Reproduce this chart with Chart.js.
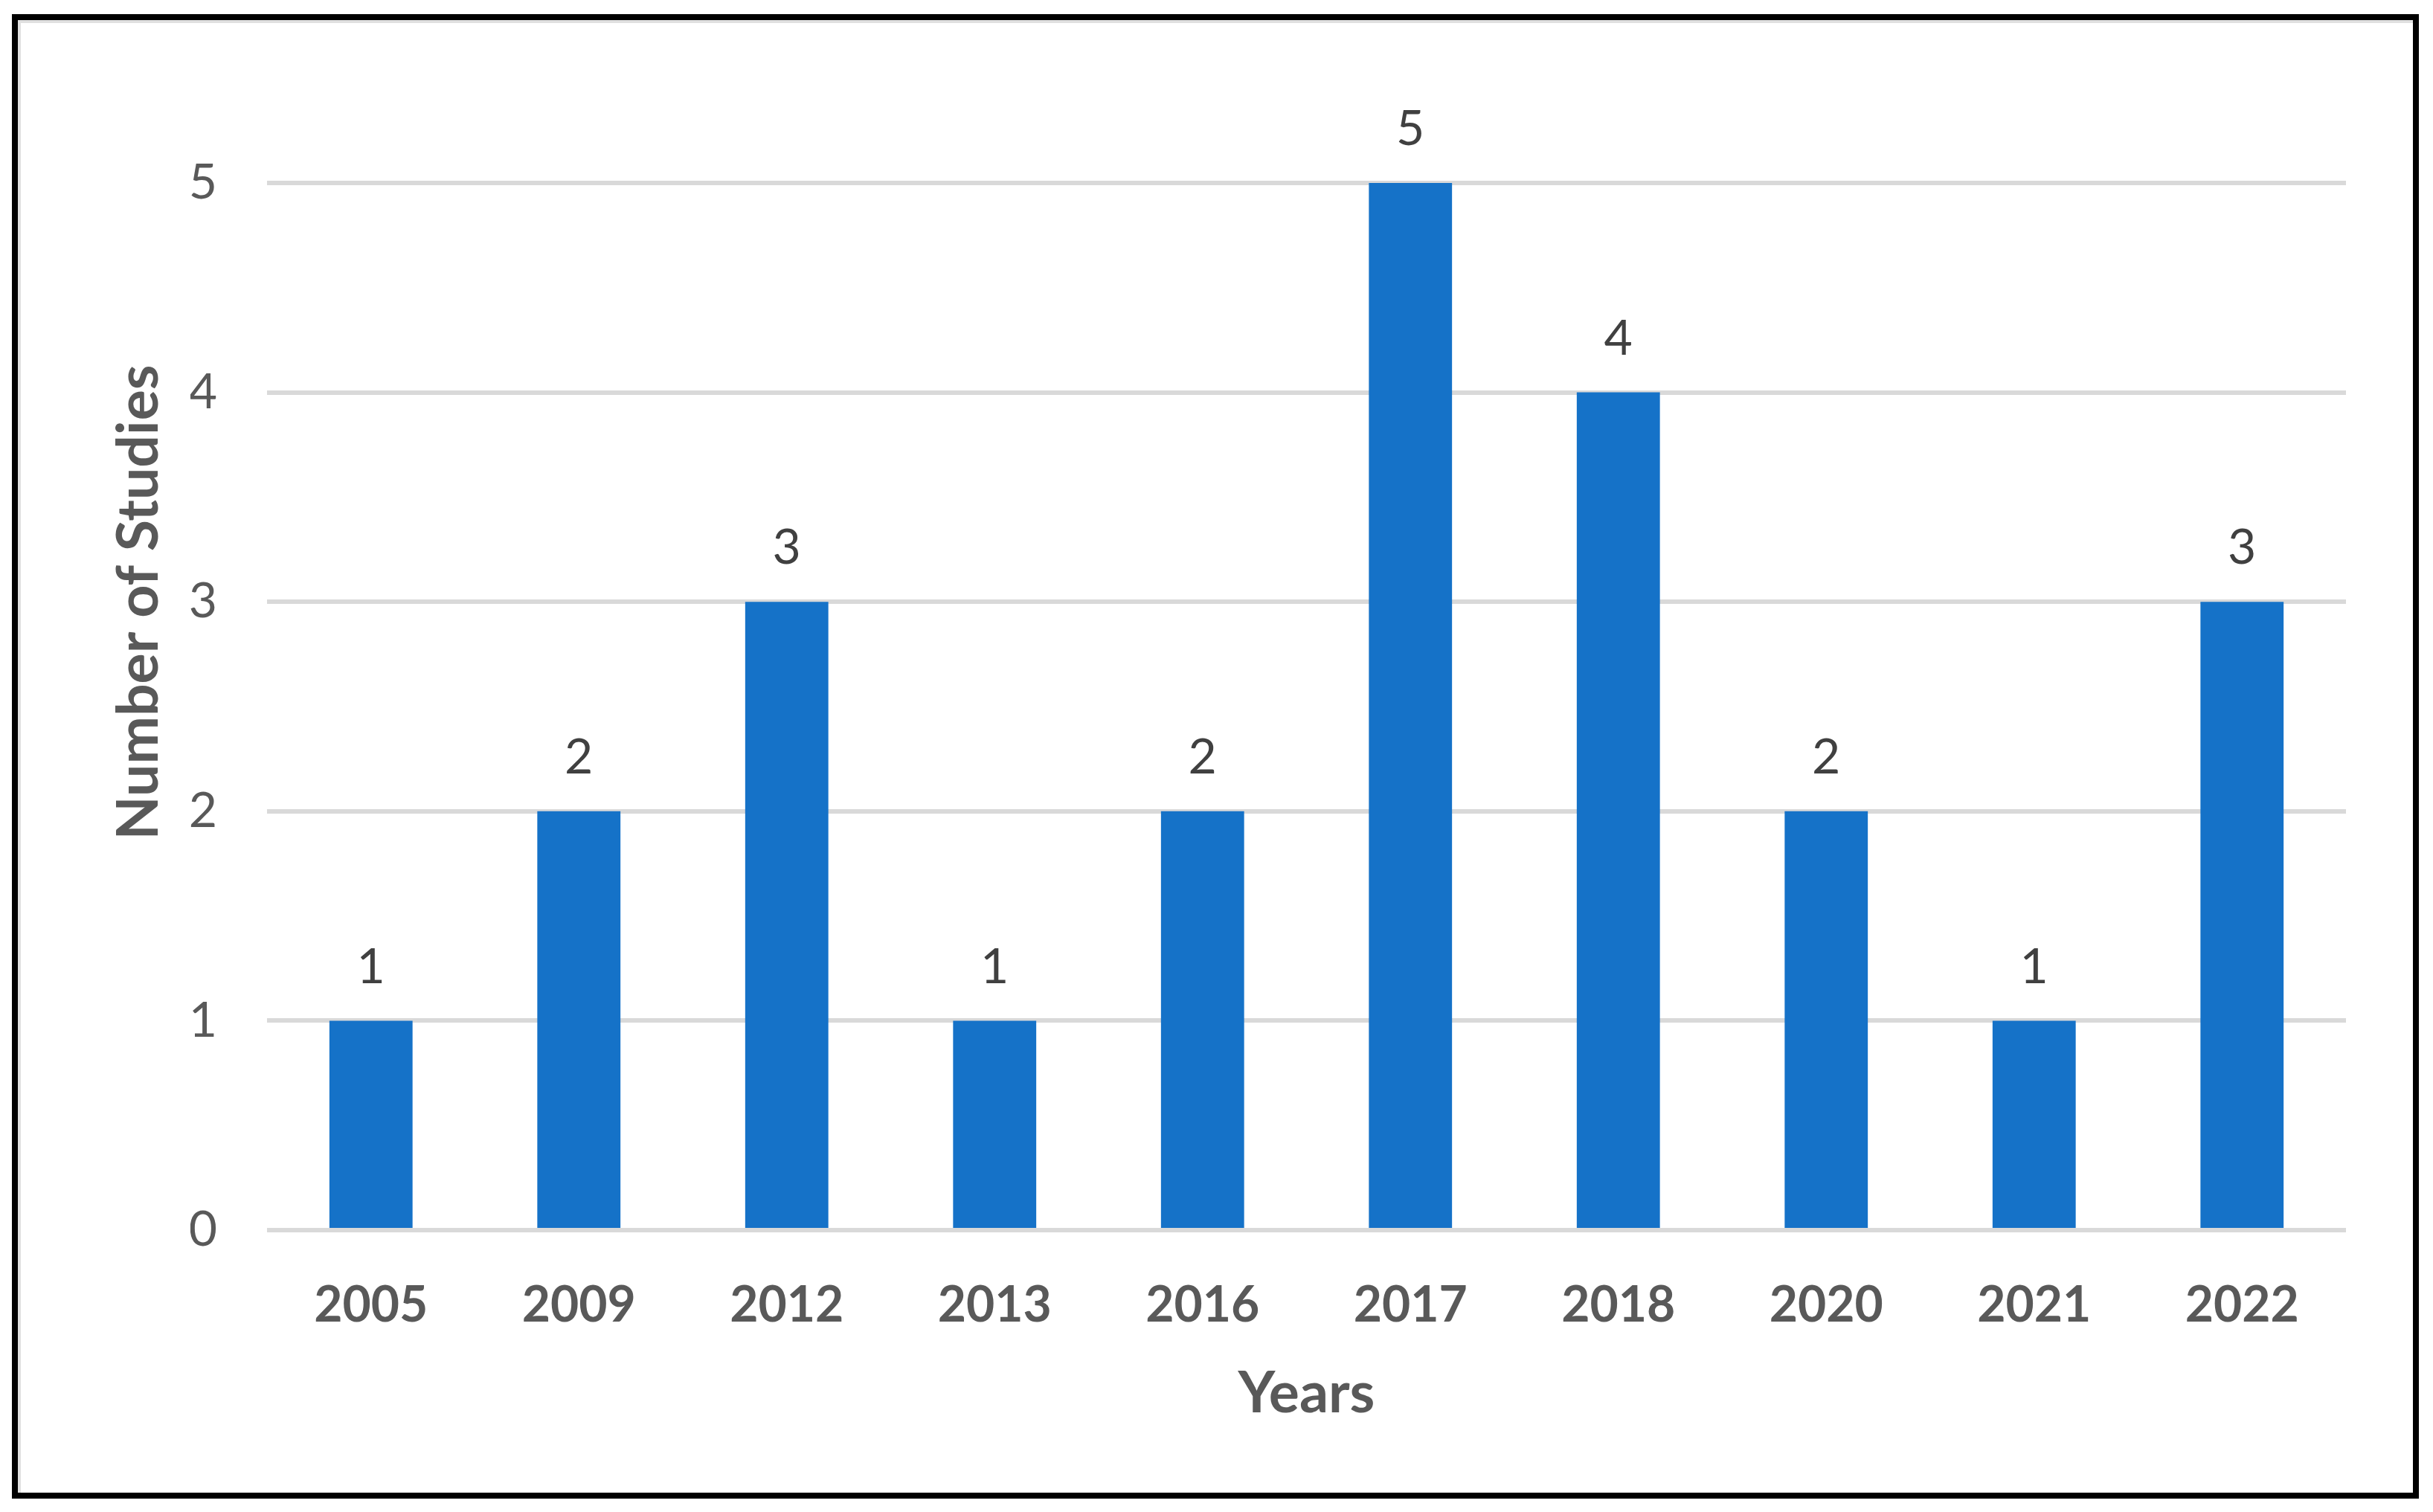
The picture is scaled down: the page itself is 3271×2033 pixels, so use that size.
<!DOCTYPE html>
<html>
<head>
<meta charset="utf-8">
<script src="https://cdn.jsdelivr.net/npm/chart.js@4.4.0/dist/chart.umd.min.js"></script>
<style>
  html, body { margin: 0; padding: 0; background: #fff; }
  #frame {
    position: absolute; left: 16px; top: 19px;
    width: 3220px; height: 1980px;
    border: 8px solid #000;
    box-shadow: inset 4px 4px 0 #e0e0e0;
  }
  #wrap { position: absolute; left: 0; top: 0; width: 3271px; height: 2033px; }
</style>
</head>
<body>
<div id="frame"></div>
<div id="wrap"><canvas id="barChart"></canvas></div>
<script>
const years = ['2005', '2009', '2012', '2013', '2016', '2017', '2018', '2020', '2021', '2022']
const studies = [1, 2, 3, 1, 2, 5, 4, 2, 1, 3]
const yTicks = [0, 1, 2, 3, 4, 5]

const FONT = 'Lato, "Open Sans", sans-serif'

// value labels above each bar
const barLabels = {
  id: 'barLabels',
  afterDatasetsDraw: (chart) => {
    const ctx = chart.ctx
    const meta = chart.getDatasetMeta(0)
    ctx.save()
    ctx.font = `66px ${FONT}`
    ctx.fillStyle = '#404040'
    ctx.textAlign = 'center'
    ctx.textBaseline = 'middle'
    meta.data.forEach((bar, i) => {
      ctx.fillText(String(studies[i]), bar.x, bar.y - 72)
    })
    ctx.restore()
  }
}

// y title, placed a bit above the plot middle like the original
const yTitle = {
  id: 'yTitle',
  afterDraw: (chart) => {
    const ctx = chart.ctx
    const area = chart.chartArea
    ctx.save()
    ctx.translate(area.left - 172, (area.top + area.bottom) / 2 - 140)
    ctx.rotate(-Math.PI / 2)
    ctx.font = `bold 77px ${FONT}`
    ctx.fillStyle = '#595959'
    ctx.textAlign = 'center'
    ctx.textBaseline = 'middle'
    ctx.fillText('Number of Studies', 0, 0)
    ctx.restore()
  }
}

const renderChart = () => {
  const ctx = document.getElementById('barChart').getContext('2d')
  new Chart(ctx, {
    type: 'bar',
    data: {
      labels: years,
      datasets: [{
        label: 'Number of Studies',
        data: studies,
        backgroundColor: '#1572C8',
        borderWidth: 0,
        categoryPercentage: 1,
        barPercentage: 0.4
      }]
    },
    options: {
      responsive: true,
      maintainAspectRatio: false,
      animation: false,
      layout: { padding: { left: 256, top: 246, right: 117, bottom: 113 } },
      plugins: {
        legend: { display: false },
        tooltip: { enabled: false }
      },
      scales: {
        x: {
          grid: { display: false },
          border: { display: false },
          ticks: {
            color: '#595959',
            font: { family: FONT, size: 66, weight: 'bold' },
            padding: 54
          },
          title: {
            display: true,
            text: 'Years',
            color: '#595959',
            font: { family: FONT, size: 77, weight: 'bold' },
            padding: { top: 0, bottom: 0 }
          },
          afterFit: (scale) => { scale.height = 266 }
        },
        y: {
          min: yTicks[0],
          max: yTicks[yTicks.length - 1],
          afterBuildTicks: (scale) => { scale.ticks = yTicks.map(v => ({ value: v })) },
          grid: { color: '#d9d9d9', lineWidth: 6, drawTicks: false },
          border: { display: false },
          ticks: {
            color: '#595959',
            font: { family: FONT, size: 66 },
            padding: 67
          },
          afterFit: (scale) => { scale.width = 103 }
        }
      }
    },
    plugins: [barLabels, yTitle]
  })
}

renderChart()
</script>
</body>
</html>
